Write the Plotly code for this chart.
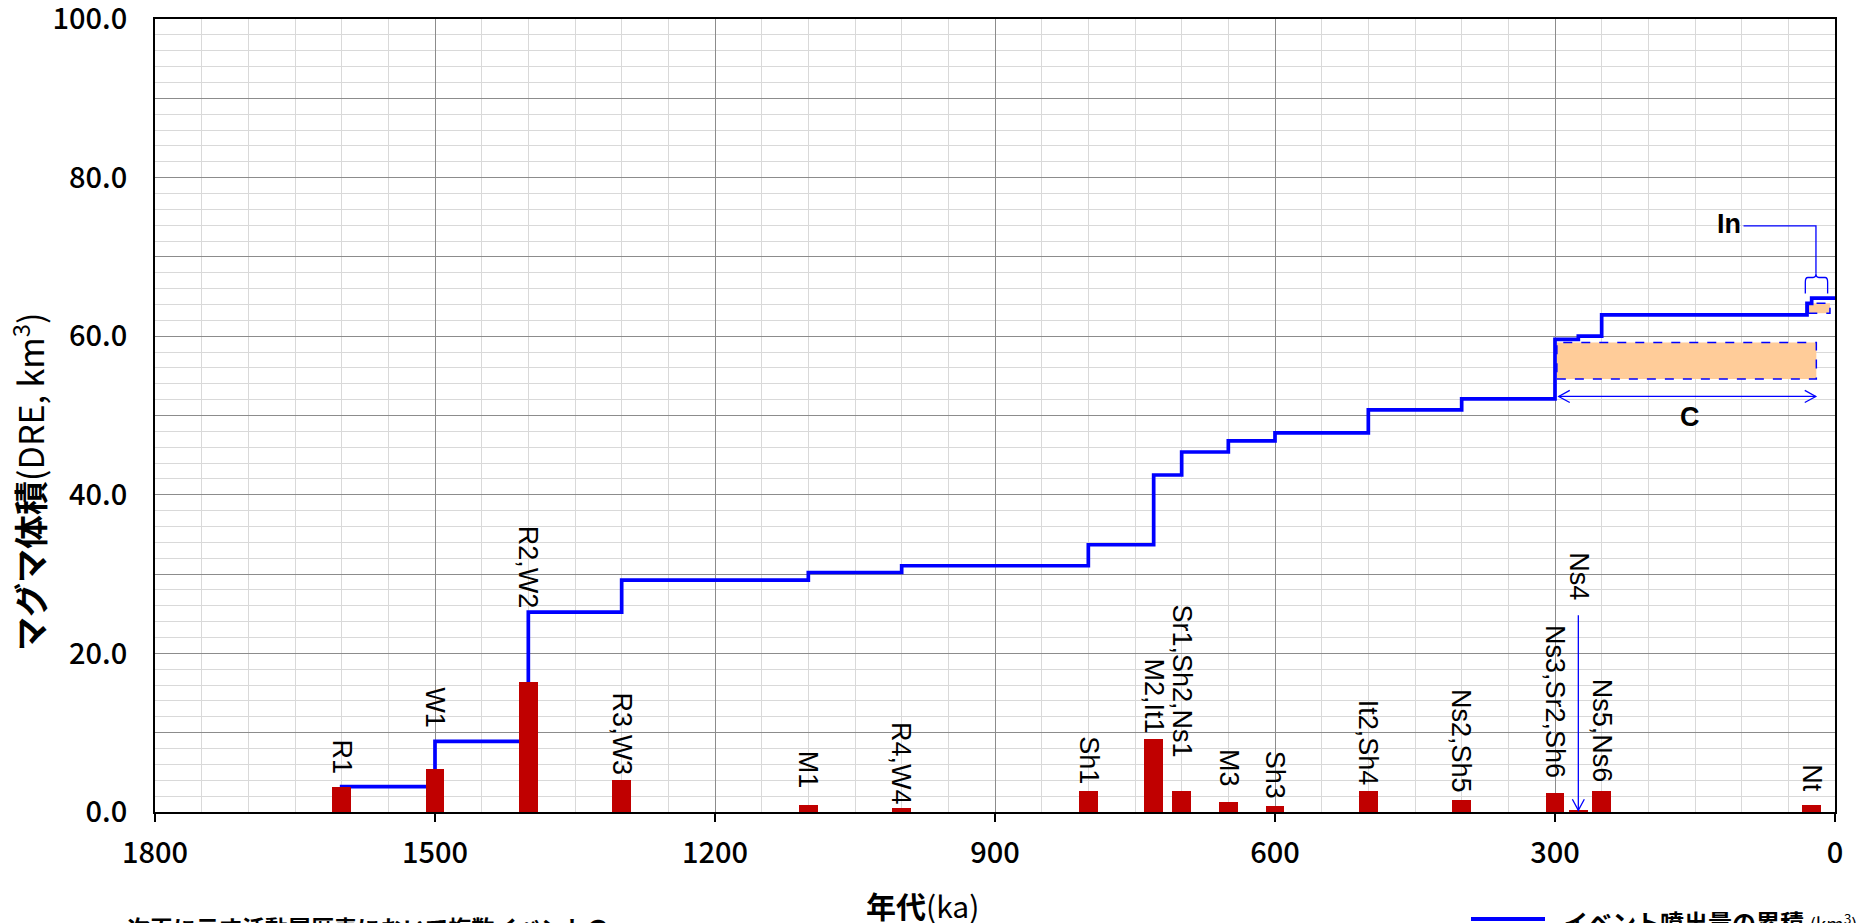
import plotly.graph_objects as go

# ---------------- data ----------------
bar_age = [1600, 1500, 1400, 1300, 1100, 1000, 800, 730, 700, 650, 600, 500, 400, 300, 275, 250, 25]
bar_vol = [3.1, 5.45, 16.4, 4.0, 0.9, 0.5, 2.6, 9.2, 2.6, 1.2, 0.8, 2.6, 1.55, 2.45, 0.25, 2.6, 0.85]
bar_label = ["R1", "W1", "R2,W2", "R3,W3", "M1", "R4,W4", "Sh1", "M2,It1", "Sr1,Sh2,Ns1",
             "M3", "Sh3", "It2,Sh4", "Ns2,Sh5", "Ns3,Sr2,Sh6", "Ns4", "Ns5,Ns6", "Nt"]
label_mid = [6.9, 13.2, 30.9, 9.8, 5.3, 6.1, 6.5, 14.6, 16.5, 5.5, 4.7, 8.7, 9.0, 14.0, 29.7, 10.3, 4.3]

cum_age = [1600, 1600, 1500, 1400, 1300, 1100, 1000, 800, 730, 700, 650, 600, 500, 400, 300, 275, 250, 30, 25, 0]
cum_vol = [0.0, 3.2, 8.9, 25.2, 29.25, 30.2, 31.05, 33.7, 42.5, 45.4, 46.8, 47.8, 50.7, 52.1, 59.6, 60.0, 62.7, 64.15, 64.8, 64.8]

x_ticks = [1800, 1500, 1200, 900, 600, 300, 0]
x_ticktext = ["1800", "1500", "1200", "900", "600", "300", "0"]
y_ticks = [0, 10, 20, 30, 40, 50, 60, 70, 80, 90, 100]
y_ticktext = ["0.0", " ", "20.0", " ", "40.0", " ", "60.0", " ", "80.0", " ", "100.0"]

# uncertainty ranges (boxes): [age_old, age_young, vol_low, vol_high]
box_C = [298, 20, 54.6, 59.2]
box_In = [28.6, 5.4, 62.9, 64.15]

W, H = 1863, 923
PL, PR, PT, PB = 155, 1835, 19, 812
XR = [1800, 0]
YR = [0, 100]


def px(xp):
    return (xp - PL) / (PR - PL)


def py(yp):
    return (PB - yp) / (PB - PT)


BLUE = "#0000FF"
JP = "Noto Sans CJK JP"
LAT = "Liberation Sans, Arial"

fig = go.Figure()
fig.add_trace(go.Scatter(x=cum_age, y=cum_vol, mode="lines", line=dict(color=BLUE, width=3.7, shape="hv"),
                         name="イベント噴出量の累積 (km³)", showlegend=False))
# bars on an overlaying subplot so they are drawn above the cumulative line
fig.add_trace(go.Bar(x=bar_age, y=bar_vol, width=20, marker=dict(color="#C00000", line=dict(width=0)),
                     showlegend=False, hoverinfo="x+y", xaxis="x2", yaxis="y2"))

annotations = []
for a, t, m in zip(bar_age, bar_label, label_mid):
    annotations.append(dict(x=a, y=m, text=t, textangle=90, showarrow=False, xanchor="center",
                            yanchor="middle", font=dict(family=LAT, size=27, color="black")))

annotations.append(dict(x=114, y=74.2, text="<b>In</b>", showarrow=False,
                        font=dict(family=LAT, size=27, color="black")))
annotations.append(dict(x=155, y=49.8, text="<b>C</b>", showarrow=False,
                        font=dict(family=LAT, size=27, color="black")))

annotations.append(dict(xref="paper", yref="paper", x=px(922), y=py(905), text="<b>年代</b>(ka)",
                        showarrow=False, xanchor="center", yanchor="middle",
                        font=dict(family=JP, size=30, color="black")))
annotations.append(dict(xref="paper", yref="paper", x=px(28), y=py(482),
                        text="<b>マグマ体積</b>(DRE, km<sup>3</sup>)", textangle=-90,
                        showarrow=False, xanchor="center", yanchor="middle",
                        font=dict(family=JP, size=34, color="black")))
annotations.append(dict(xref="paper", yref="paper", x=px(125), y=py(927),
                        text="<b>次頁に示す活動履歴表において複数イベントの</b>",
                        showarrow=False, xanchor="left", yanchor="middle",
                        font=dict(family=JP, size=23, color="black")))
annotations.append(dict(xref="paper", yref="paper", x=px(1562), y=py(921),
                        text="<b>イベント噴出量の累積</b> <span style='font-size:19px'>(km<sup>3</sup>)</span>",
                        showarrow=False, xanchor="left", yanchor="middle",
                        font=dict(family=JP, size=24, color="black")))

shapes = []
for b in (box_C, box_In):
    shapes.append(dict(type="rect", x0=b[0], x1=b[1], y0=b[2], y1=b[3], xref="x", yref="y",
                       fillcolor="#FFCC99", line=dict(color=BLUE, width=1.5, dash="dash"), layer="between"))

thin = dict(color=BLUE, width=1.3)
# C double arrow
cy = 52.4
shapes.append(dict(type="line", x0=296, x1=20.6, y0=cy, y1=cy, line=thin))
shapes.append(dict(type="path", path=f"M {296-11.8},{cy+0.76} L 296,{cy} L {296-11.8},{cy-0.76}", line=thin))
shapes.append(dict(type="path", path=f"M {20.6+11.8},{cy+0.76} L 20.6,{cy} L {20.6+11.8},{cy-0.76}", line=thin))
# Ns4 arrow
shapes.append(dict(type="line", x0=275, x1=275, y0=24.8, y1=0.2, line=thin))
shapes.append(dict(type="path", path=f"M {275+6.4},{0.2+1.4} L 275,0.2 L {275-6.4},{0.2+1.4}", line=thin))
# In leader + brace
shapes.append(dict(type="path", path="M 98,73.9 L 20.4,73.9 L 20.4,67.9", line=thin))
shapes.append(dict(type="path",
                   path="M 31.8,65.4 L 31.8,66.8 Q 31.8,67.4 29,67.4 L 23.5,67.4 Q 20.4,67.4 20.4,67.9 "
                        "Q 20.4,67.4 17.3,67.4 L 10.7,67.4 Q 7.9,67.4 7.9,66.8 L 7.9,65.4",
                   line=thin))
# legend sample line
shapes.append(dict(type="line", xref="paper", yref="paper", x0=px(1471), x1=px(1545), y0=py(919), y1=py(919),
                   line=dict(color=BLUE, width=4)))

fig.update_layout(
    width=W, height=H,
    margin=dict(l=PL, r=W - PR, t=PT, b=H - PB, autoexpand=False),
    paper_bgcolor="white", plot_bgcolor="white",
    showlegend=False, bargap=0,
    annotations=annotations, shapes=shapes,
    xaxis=dict(range=XR, tickmode="array", tickvals=x_ticks, ticktext=x_ticktext, automargin=False,
               showgrid=True, gridcolor="#8C8C8C", gridwidth=1,
               minor=dict(tickmode="linear", tick0=0, dtick=50, showgrid=True, gridcolor="#D9D9D9", gridwidth=1.2),
               showline=True, linecolor="black", linewidth=2, mirror=True,
               ticks="outside", ticklen=8, tickwidth=2, tickcolor="black", ticklabeloverflow="allow",
               tickfont=dict(family=JP, size=29, color="black", weight=500), ticklabelstandoff=6, zeroline=False),
    yaxis=dict(range=YR, tickmode="array", tickvals=y_ticks, ticktext=y_ticktext, automargin=False,
               showgrid=True, gridcolor="#8C8C8C", gridwidth=1,
               minor=dict(tickmode="linear", tick0=0, dtick=2, showgrid=True, gridcolor="#D9D9D9", gridwidth=1.2),
               showline=True, linecolor="black", linewidth=2, mirror=True, ticks="", ticklabeloverflow="allow",
               tickfont=dict(family=JP, size=29, color="black", weight=500), ticklabelstandoff=20, zeroline=False),
    xaxis2=dict(range=XR, overlaying="x", visible=False, showgrid=False, zeroline=False, automargin=False),
    yaxis2=dict(range=YR, overlaying="y", visible=False, showgrid=False, zeroline=False, automargin=False),
)

fig.write_html("out.html", config={"displayModeBar": False},
               post_script="document.body.style.margin='0px';")
